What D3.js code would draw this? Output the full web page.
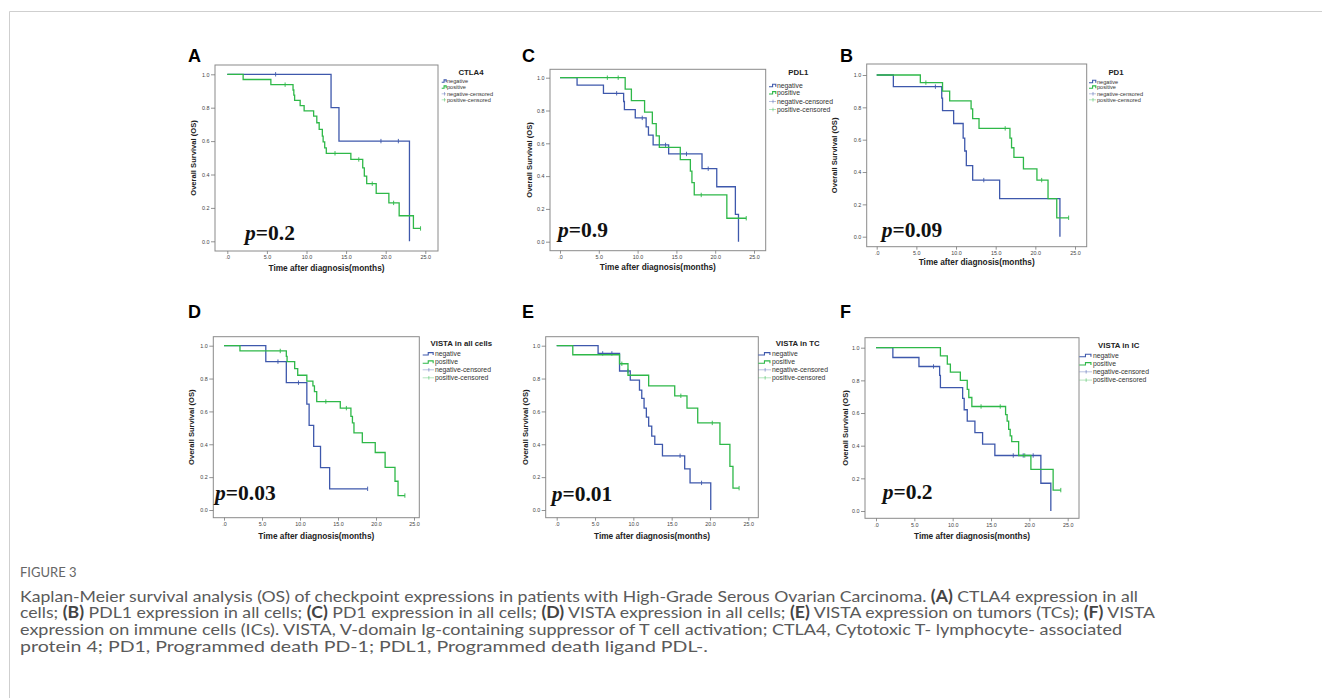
<!DOCTYPE html>
<html><head><meta charset="utf-8">
<script src="https://cdn.jsdelivr.net/npm/d3@7"></script>
<style>
html,body{margin:0;padding:0;background:#fff;}
svg{display:block;}
</style></head>
<body>
<svg id="fig" width="1322" height="698"></svg>
<script>
// ---------- DATA ----------
const xTickVals = [0, 5, 10, 15, 20, 25];
const xTickLabels = [".0", "5.0", "10.0", "15.0", "20.0", "25.0"];
const yTickVals = [0, 0.2, 0.4, 0.6, 0.8, 1.0];
const yTickLabels = ["0.0", "0.2", "0.4", "0.6", "0.8", "1.0"];
const seriesNames = ["negative", "positive", "negative-censored", "positive-censored"];
const panelLetters = ["A", "C", "B", "D", "E", "F"];
const panelTitles = ["CTLA4", "PDL1", "PD1", "VISTA in all cells", "VISTA in TC", "VISTA in IC"];
const pValues = ["0.2", "0.9", "0.09", "0.03", "0.01", "0.2"];

// steps: [time (months), survival after event]
const ctla4Neg = [[13.1,0.8],[14.1,0.6],[23.0,0.0]];
const ctla4NegCens = [6.1,19.4,21.6];
const ctla4Pos = [[2.0,0.969],[5.5,0.938],[8.3,0.906],[8.4,0.875],[8.5,0.844],[9.2,0.813],[9.7,0.781],[10.9,0.75],[11.3,0.71],[11.6,0.67],[12.0,0.63],[12.1,0.595],[12.3,0.56],[12.5,0.527],[15.6,0.49],[17.1,0.44],[17.3,0.39],[17.6,0.345],[18.8,0.287],[20.4,0.23],[21.7,0.153],[23.5,0.077]];
const ctla4PosCens = [7.3,13.6,16.6,18.3,21.0,24.4];

const pdl1Neg = [[2.2,0.955],[5.6,0.905],[8.2,0.855],[8.3,0.805],[9.7,0.755],[11.1,0.70],[11.4,0.65],[12.0,0.59],[14.0,0.535],[18.3,0.445],[20.2,0.335],[22.6,0.167],[23.0,0.0]];
const pdl1NegCens = [7.3,10.6,13.6,16.3,19.1];
const pdl1Pos = [[8.4,0.93],[9.2,0.86],[10.9,0.79],[11.9,0.72],[12.4,0.645],[12.8,0.575],[15.5,0.50],[16.8,0.43],[17.0,0.36],[17.3,0.285],[21.5,0.143]];
const pdl1PosCens = [6.1,7.5,18.2,24.0];

const pd1Neg = [[2.1,0.928],[8.2,0.857],[8.3,0.78],[9.7,0.70],[10.9,0.61],[11.1,0.53],[11.3,0.44],[12.1,0.35],[15.5,0.235],[23.1,0.0]];
const pd1NegCens = [7.4,13.5];
const pd1Pos = [[5.5,0.953],[8.3,0.90],[9.2,0.84],[11.9,0.79],[12.1,0.73],[12.9,0.67],[16.8,0.61],[17.0,0.55],[17.3,0.49],[18.5,0.42],[20.2,0.35],[21.6,0.235],[22.7,0.117]];
const pd1PosCens = [6.2,16.2,20.8,24.2];

const vAllNeg = [[5.5,0.903],[8.2,0.775],[10.9,0.645],[11.2,0.515],[11.8,0.387],[12.7,0.258],[13.9,0.129]];
const vAllNegCens = [7.1,9.8,18.9];
const vAllPos = [[2.1,0.968],[8.2,0.935],[8.3,0.903],[9.3,0.86],[9.7,0.82],[10.9,0.785],[11.7,0.755],[11.9,0.72],[12.2,0.66],[15.3,0.62],[16.7,0.57],[16.9,0.53],[17.1,0.47],[18.2,0.41],[19.9,0.35],[21.2,0.26],[22.5,0.175],[22.9,0.088]];
const vAllPosCens = [7.4,13.4,16.1,23.8];

const vTcNeg = [[5.4,0.953],[8.2,0.846],[9.6,0.79],[10.8,0.73],[11.1,0.68],[11.4,0.62],[11.7,0.565],[12.0,0.51],[12.4,0.45],[12.8,0.40],[13.8,0.33],[16.7,0.25],[17.4,0.165],[20.1,0.0]];
const vTcNegCens = [6.0,7.2,9.3,16.1,18.9];
const vTcPos = [[2.1,0.945],[8.2,0.89],[9.3,0.82],[12.0,0.755],[15.4,0.695],[17.0,0.62],[18.4,0.53],[21.3,0.40],[22.6,0.265],[23.0,0.133]];
const vTcPosCens = [8.5,16.2,20.3,23.8];

const vIcNeg = [[2.2,0.94],[5.6,0.885],[8.3,0.83],[8.4,0.755],[11.3,0.69],[11.5,0.62],[11.9,0.55],[12.9,0.48],[13.9,0.41],[15.5,0.34],[21.5,0.17],[22.8,0.0]];
const vIcNegCens = [7.5,17.9,19.2,20.5];
const vIcPos = [[8.4,0.95],[9.3,0.90],[9.7,0.85],[11.0,0.80],[11.9,0.745],[12.1,0.695],[12.5,0.64],[16.9,0.59],[17.1,0.55],[17.3,0.50],[17.5,0.46],[17.7,0.425],[18.6,0.34],[20.2,0.255],[23.1,0.128]];
const vIcPosCens = [13.7,16.2,19.4,24.1];

const panelData = [
  {neg: ctla4Neg, negC: ctla4NegCens, pos: ctla4Pos, posC: ctla4PosCens},
  {neg: pdl1Neg, negC: pdl1NegCens, pos: pdl1Pos, posC: pdl1PosCens},
  {neg: pd1Neg, negC: pd1NegCens, pos: pd1Pos, posC: pd1PosCens},
  {neg: vAllNeg, negC: vAllNegCens, pos: vAllPos, posC: vAllPosCens},
  {neg: vTcNeg, negC: vTcNegCens, pos: vTcPos, posC: vTcPosCens},
  {neg: vIcNeg, negC: vIcNegCens, pos: vIcPos, posC: vIcPosCens}
];

// ---------- LAYOUT ----------
const layouts = [
  {box:[215,438,65,251], xr:[227.3,425.3], yr:[241.3,74.3], letter:[188,62], lt:[471,74.5], lx:441.7, tx:447, ly:[82.3,88.3,95,101], lfs:5.6, tfs:7.8, p:[245,240], yt:193, xt:271},
  {box:[550,765.7,69.3,250.7], xr:[560,754], yr:[241.7,77.7], letter:[522,62], lt:[798.3,75], lx:769, tx:777, ly:[86.7,94,102.7,110.7], lfs:6.8, tfs:7.8, p:[558,237], yt:529, xt:270},
  {box:[866.7,1086.7,64,246.7], xr:[876.7,1075], yr:[236.7,75], letter:[840,62], lt:[1116,74.5], lx:1089, tx:1097, ly:[82.7,88.3,95,101], lfs:5.6, tfs:7.8, p:[881.7,237], yt:834, xt:265},
  {box:[213.3,419.3,336.7,517.7], xr:[224,414], yr:[510,345.7], letter:[188,318], lt:[461.3,345.5], lx:422.7, tx:435, ly:[355,363.3,371,379], lfs:6.8, tfs:7.8, p:[215,500], yt:191.7, xt:539},
  {box:[545.7,758.3,336.7,517.7], xr:[556.7,748.3], yr:[510,345.7], letter:[522,318], lt:[797.7,345.5], lx:758.3, tx:772, ly:[355,363.3,371,379], lfs:6.8, tfs:7.8, p:[551.7,500.7], yt:525, xt:539},
  {box:[865,1079,337.7,518.3], xr:[876,1067.7], yr:[511,347.7], letter:[840,318], lt:[1118.7,348], lx:1079.3, tx:1093, ly:[356.7,365,373,381.3], lfs:6.8, tfs:7.8, p:[882.7,499.3], yt:845, xt:539}
];

const BLUE = "#3E58AC", GREEN = "#2EB848";
const svg = d3.select("#fig");

// page frame lines
svg.append("line").attr("x1",9.5).attr("x2",1322).attr("y1",11.5).attr("y2",11.5).attr("stroke","#cfcfcf").attr("stroke-width",1);
svg.append("line").attr("x1",9.5).attr("x2",9.5).attr("y1",11.5).attr("y2",698).attr("stroke","#cfcfcf").attr("stroke-width",1);

const line = d3.line().curve(d3.curveStepAfter);

function survivalAt(steps, t) {
  let s = 1;
  for (const [st, sv] of steps) { if (st <= t) s = sv; }
  return s;
}

panelData.forEach((d, i) => {
  const L = layouts[i];
  const g = svg.append("g");
  const x = d3.scaleLinear().domain([0, 25]).range(L.xr);
  const y = d3.scaleLinear().domain([0, 1]).range(L.yr);
  const [bx0, bx1, by0, by1] = L.box;

  g.append("rect").attr("x", bx0).attr("y", by0).attr("width", bx1 - bx0).attr("height", by1 - by0)
    .attr("fill", "#fff").attr("stroke", "#8a8a8a").attr("stroke-width", 1);

  const yAxis = d3.axisLeft(y).tickValues(yTickVals).tickFormat((v, k) => yTickLabels[k]).tickSize(4).tickPadding(1.5);
  const ya = g.append("g").attr("transform", `translate(${bx0},0)`).call(yAxis);
  const xAxis = d3.axisBottom(x).tickValues(xTickVals).tickFormat((v, k) => xTickLabels[k]).tickSize(3).tickPadding(1.5);
  const xa = g.append("g").attr("transform", `translate(0,${by1})`).call(xAxis);
  [ya, xa].forEach(a => {
    a.select(".domain").remove();
    a.selectAll(".tick line").attr("stroke", "#777").attr("stroke-width", 0.8);
    a.selectAll(".tick text").attr("font-family", "Liberation Sans, Arial, sans-serif").attr("font-size", 5.4).attr("fill", "#444");
  });

  const series = [
    {steps: d.neg, cens: d.negC, color: BLUE},
    {steps: d.pos, cens: d.posC, color: GREEN}
  ];
  series.forEach(s => {
    const lastStep = s.steps[s.steps.length - 1];
    const end = Math.max(lastStep[0], d3.max(s.cens));
    const pts = [[0, 1], ...s.steps, [end, lastStep[1]]];
    g.append("path").attr("d", line(pts.map(p => [x(p[0]), y(p[1])])))
      .attr("fill", "none").attr("stroke", s.color).attr("stroke-width", 1.3);
    s.cens.forEach(t => {
      const sv = survivalAt(s.steps, t);
      g.append("line").attr("x1", x(t)).attr("x2", x(t)).attr("y1", y(sv) - 2.2).attr("y2", y(sv) + 2.2)
        .attr("stroke", s.color).attr("stroke-width", 0.9);
    });
  });

  const pt = g.append("text").attr("x", L.p[0]).attr("y", L.p[1])
    .attr("font-family", "Liberation Serif, Times New Roman, serif").attr("font-size", 21.5).attr("font-weight", "bold").attr("fill", "#111");
  pt.append("tspan").attr("font-style", "italic").text("p");
  pt.append("tspan").text("=" + pValues[i]);

  g.append("text").attr("x", (bx0 + bx1) / 2).attr("y", L.xt).attr("text-anchor", "middle")
    .attr("font-family", "Liberation Sans, Arial, sans-serif").attr("font-weight", "bold").attr("font-size", 8.3).attr("fill", "#222")
    .text("Time after diagnosis(months)");
  g.append("text").attr("transform", `translate(${L.yt},${(by0 + by1) / 2}) rotate(-90)`).attr("text-anchor", "middle")
    .attr("dy", "0.35em")
    .attr("font-family", "Liberation Sans, Arial, sans-serif").attr("font-weight", "bold").attr("font-size", 7.6).attr("fill", "#222")
    .text("Overall Survival (OS)");

  g.append("text").attr("x", L.letter[0]).attr("y", L.letter[1])
    .attr("font-family", "Liberation Sans, Arial, sans-serif").attr("font-weight", "bold").attr("font-size", 18).attr("fill", "#000")
    .text(panelLetters[i]);

  g.append("text").attr("x", L.lt[0]).attr("y", L.lt[1]).attr("text-anchor", "middle")
    .attr("font-family", "Liberation Sans, Arial, sans-serif").attr("font-weight", "bold").attr("font-size", L.tfs).attr("fill", "#222")
    .text(panelTitles[i]);
  const colors = [BLUE, GREEN, BLUE, GREEN];
  seriesNames.forEach((name, k) => {
    const yy = L.ly[k];
    const lx = L.lx, tx = L.tx;
    if (k < 2) {
      const w = tx - lx;
      g.append("path")
        .attr("d", `M${lx},${yy} L${lx + w * 0.45},${yy} L${lx + w * 0.45},${yy - 2.4} L${lx + w * 0.85},${yy - 2.4} L${lx + w * 0.85},${yy}`)
        .attr("fill", "none").attr("stroke", colors[k]).attr("stroke-width", 1.1);
    } else {
      const mid = (lx + tx) / 2;
      g.append("line").attr("x1", lx).attr("x2", tx - 1).attr("y1", yy - 1.2).attr("y2", yy - 1.2)
        .attr("stroke", colors[k]).attr("stroke-width", 0.6).attr("opacity", 0.6);
      g.append("line").attr("x1", mid).attr("x2", mid).attr("y1", yy - 3).attr("y2", yy + 0.6)
        .attr("stroke", colors[k]).attr("stroke-width", 0.7).attr("opacity", 0.7);
    }
    g.append("text").attr("x", tx).attr("y", yy + L.lfs * 0.15).attr("font-family", "Liberation Sans, Arial, sans-serif")
      .attr("font-size", L.lfs).attr("fill", "#333").text(name);
  });
});

// caption
const capFont = "Lato, 'Open Sans', sans-serif";
svg.append("text").attr("x", 20).attr("y", 577).attr("font-family", capFont).attr("font-size", 13)
  .attr("fill", "#666").text("FIGURE 3");
const capLines = [
  [["Kaplan-Meier survival analysis (OS) of checkpoint expressions in patients with High-Grade Serous Ovarian Carcinoma. ", false], ["(A)", true], [" CTLA4 expression in all", false]],
  [["cells; ", false], ["(B)", true], [" PDL1 expression in all cells; ", false], ["(C)", true], [" PD1 expression in all cells; ", false], ["(D)", true], [" VISTA expression in all cells; ", false], ["(E)", true], [" VISTA expression on tumors (TCs); ", false], ["(F)", true], [" VISTA", false]],
  [["expression on immune cells (ICs). VISTA, V-domain Ig-containing suppressor of T cell activation; CTLA4, Cytotoxic T- lymphocyte- associated", false]],
  [["protein 4; PD1, Programmed death PD-1; PDL1, Programmed death ligand PDL-.", false]]
];
const capBase = [601.5, 618.2, 634.9, 651.6];
const capEnd = [1138, 1155, 1122, 708];
capLines.forEach((parts, k) => {
  const t = svg.append("text").attr("x", 20).attr("y", capBase[k]).attr("font-family", capFont)
    .attr("font-size", 16.2).attr("fill", "#5a5a5a");
  parts.forEach(([txt, b]) => {
    const ts = t.append("tspan").text(txt);
    if (b) ts.attr("font-weight", "bold").attr("fill", "#444");
  });
  const natural = t.node().getComputedTextLength();
  const target = capEnd[k] - 20;
  if (Math.abs(natural - target) > 2) t.attr("textLength", target).attr("lengthAdjust", "spacingAndGlyphs");
});
</script>
</body></html>
